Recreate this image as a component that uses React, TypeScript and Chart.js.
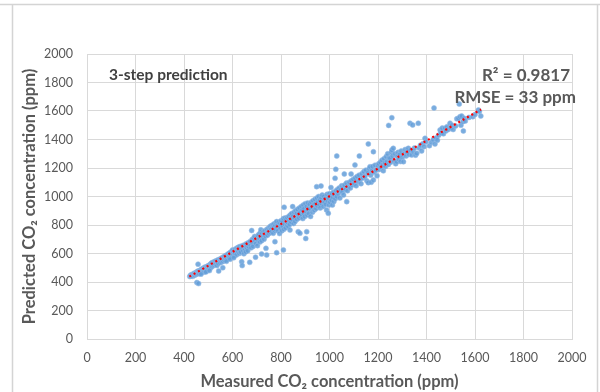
import React, { useEffect, useRef } from "react";
import { Chart, registerables } from "chart.js";

Chart.register(...registerables);

const X_TITLE = "Measured CO₂ concentration (ppm)";
const Y_TITLE = "Predicted CO₂ concentration (ppm)";
const PANEL_LABEL = "3-step prediction";
const R2_LABEL = "R² = 0.9817";
const RMSE_LABEL = "RMSE = 33 ppm";

const AXIS_MIN = 0;
const AXIS_MAX = 2000;
const AXIS_STEP = 200;

// linear trend line end points (measured, predicted)
const trendMeasured = [422, 1625];
const trendPredicted = [438, 1611];

// [measured, predicted] in ppm
const points420to520: [number, number][] = [
  [424, 438], [426, 446], [429, 442], [431, 452], [433, 448], [436, 440], [438, 455], [440, 450], [442, 462], [444, 447],
  [446, 458], [448, 453], [450, 468], [451, 460], [453, 456], [455, 472], [457, 462], [458, 478], [460, 467], [462, 458],
  [463, 475], [465, 480], [467, 470], [469, 486], [470, 478], [472, 465], [474, 492], [476, 483], [478, 476], [480, 498],
  [481, 488], [483, 470], [485, 495], [487, 505], [489, 485], [490, 500], [492, 493], [494, 478], [496, 510], [498, 502],
  [500, 490], [501, 515], [503, 505], [505, 498], [507, 522], [509, 510], [510, 500], [512, 530], [514, 518], [516, 508],
  [518, 525], [520, 515], [453, 396], [460, 389], [458, 525], [470, 455], [490, 470], [505, 480], [515, 535],
];

const points520to620: [number, number][] = [
  [522, 540], [524, 520], [526, 532], [528, 545], [530, 525], [532, 538], [534, 550], [536, 515], [538, 542], [540, 555],
  [541, 530], [543, 477], [545, 548], [547, 560], [549, 535], [551, 552], [553, 565], [555, 540], [557, 558], [559, 572],
  [561, 545], [563, 562], [565, 578], [567, 552], [569, 568], [571, 585], [573, 558], [575, 575], [577, 590], [579, 565],
  [581, 582], [583, 598], [585, 570], [587, 588], [589, 605], [591, 575], [593, 595], [595, 612], [597, 585], [599, 600],
  [600, 625], [602, 592], [604, 610], [606, 580], [608, 620], [610, 600], [612, 632], [614, 612], [616, 590], [618, 625],
  [620, 640], [560, 500], [575, 545], [590, 560], [605, 570],
];

const points620to720: [number, number][] = [
  [622, 615], [624, 632], [626, 645], [628, 600], [630, 625], [632, 650], [634, 610], [636, 638], [638, 542], [640, 515],
  [641, 655], [643, 622], [645, 640], [647, 598], [649, 660], [651, 632], [653, 648], [655, 612], [657, 668], [659, 640],
  [661, 655], [663, 620], [665, 675], [667, 648], [669, 662], [671, 538], [673, 685], [675, 655], [677, 640], [679, 761],
  [681, 698], [683, 668], [685, 650], [687, 705], [689, 680], [691, 720], [693, 690], [695, 574], [697, 670], [699, 715],
  [701, 700], [703, 655], [705, 725], [707, 690], [709, 735], [711, 705], [713, 680], [715, 745], [717, 766], [719, 712],
  [720, 690],
];

const points720to820: [number, number][] = [
  [722, 740], [720, 597], [726, 718], [728, 752], [730, 700], [732, 735], [734, 760], [736, 722], [738, 636], [740, 745],
  [742, 770], [744, 728], [746, 752], [748, 775], [750, 740], [752, 765], [754, 788], [756, 748], [758, 772], [760, 795],
  [762, 755], [764, 780], [766, 800], [768, 742], [770, 785], [772, 808], [774, 760], [775, 683], [776, 795], [778, 770],
  [780, 815], [782, 606], [782, 824], [784, 785], [786, 800], [788, 760], [790, 820], [792, 790], [794, 740], [796, 812],
  [798, 775], [800, 830], [802, 800], [804, 760], [806, 825], [808, 790], [810, 625], [810, 845], [812, 770], [813, 925],
  [815, 805], [817, 850], [819, 780], [741, 590],
];

const points820to1000: [number, number][] = [
  [822, 840], [824, 800], [826, 852], [828, 815], [830, 790], [832, 860], [834, 830], [836, 805], [837, 765], [838, 870],
  [840, 845], [842, 820], [844, 880], [846, 838], [848, 929], [850, 862], [852, 810], [854, 890], [856, 848], [858, 825],
  [860, 900], [862, 868], [865, 882], [866, 840], [868, 910], [871, 753], [872, 875], [874, 850], [876, 920], [878, 742],
  [880, 890], [882, 860], [884, 930], [886, 870], [888, 905], [890, 845], [892, 940], [894, 880], [896, 915], [898, 860],
  [900, 950], [902, 705], [903, 895], [906, 753], [906, 930], [908, 870], [910, 955], [912, 905], [915, 880], [918, 945],
  [920, 915], [922, 860], [925, 960], [928, 925], [930, 890], [932, 970], [935, 940], [938, 905], [940, 980], [942, 950],
  [945, 915], [947, 1069], [948, 990], [950, 935], [952, 960], [955, 1000], [958, 940], [960, 975], [962, 920], [965, 1074],
  [966, 990], [968, 950], [970, 1010], [972, 965], [975, 930], [978, 1000], [980, 960], [982, 985], [985, 945], [988, 905],
  [990, 1015], [992, 970], [995, 882], [996, 990], [998, 940], [1000, 1020],
];

const points1000to1200: [number, number][] = [
  [1002, 960], [1004, 1005], [1006, 1063], [1008, 975], [1010, 1020], [1012, 940], [1014, 995], [1016, 1030], [1018, 965], [1020, 1010],
  [1023, 1128], [1024, 985], [1026, 1191], [1027, 1040], [1030, 1284], [1030, 1000], [1033, 1050], [1036, 1020], [1040, 1060], [1043, 990],
  [1046, 1045], [1050, 1075], [1053, 1030], [1056, 1060], [1058, 1010], [1061, 1158], [1062, 1080], [1066, 1050], [1070, 1095], [1071, 964],
  [1074, 1040], [1078, 1070], [1082, 1100], [1086, 1060], [1089, 1158], [1090, 1110], [1094, 1080], [1098, 1120], [1102, 1090], [1105, 1221],
  [1106, 1130], [1110, 1075], [1114, 1140], [1118, 1105], [1122, 1150], [1123, 1284], [1126, 1120], [1130, 1090], [1134, 1160], [1138, 1130],
  [1142, 1175], [1146, 1140], [1150, 1185], [1154, 1110], [1158, 1165], [1160, 1097], [1160, 1369], [1164, 1195], [1167, 1209], [1170, 1150],
  [1172, 1100], [1175, 1180], [1178, 1210], [1181, 1116], [1181, 1314], [1184, 1170], [1188, 1220], [1192, 1185], [1196, 1145], [1200, 1215],
];

const points1200to1420: [number, number][] = [
  [1203, 1230], [1206, 1190], [1210, 1240], [1213, 1205], [1216, 1255], [1219, 1220], [1222, 1180], [1225, 1265], [1228, 1235], [1231, 1210],
  [1234, 1280], [1237, 1245], [1240, 1300], [1243, 1225], [1244, 1499], [1246, 1270], [1250, 1268], [1252, 1240], [1255, 1310], [1257, 1326],
  [1257, 1553], [1260, 1285], [1263, 1338], [1266, 1250], [1270, 1300], [1273, 1230], [1277, 1244], [1280, 1280], [1283, 1310], [1286, 1260],
  [1290, 1295], [1293, 1245], [1296, 1320], [1300, 1275], [1305, 1244], [1308, 1300], [1312, 1330], [1316, 1285], [1320, 1310], [1325, 1338],
  [1328, 1295], [1332, 1514], [1334, 1325], [1339, 1291], [1343, 1502], [1346, 1314], [1350, 1340], [1355, 1290], [1360, 1303], [1366, 1514],
  [1370, 1340], [1375, 1360], [1380, 1320], [1385, 1370], [1390, 1350], [1394, 1408], [1398, 1385], [1412, 1357], [1420, 1380],
];

const points1420to1630: [number, number][] = [
  [1428, 1400], [1431, 1621], [1435, 1369], [1440, 1410], [1445, 1395], [1450, 1430], [1456, 1467], [1460, 1445], [1465, 1480], [1470, 1440],
  [1476, 1479], [1480, 1460], [1485, 1490], [1490, 1470], [1497, 1514], [1500, 1480], [1505, 1500], [1510, 1470], [1520, 1495], [1525, 1545],
  [1531, 1548], [1535, 1649], [1538, 1560], [1542, 1500], [1545, 1565], [1550, 1525], [1552, 1460], [1555, 1549], [1560, 1530], [1575, 1555],
  [1591, 1560], [1600, 1575], [1614, 1607], [1618, 1596], [1624, 1565],
];

const allPoints = [
  ...points420to520,
  ...points520to620,
  ...points620to720,
  ...points720to820,
  ...points820to1000,
  ...points1000to1200,
  ...points1200to1420,
  ...points1420to1630,
];

const FONT = "Lato, 'Open Sans', sans-serif";
const GRID = "#d9d9d9";
const TEXT = "#595959";

const decorPlugin = {
  id: "decor",
  beforeDraw(chart: any) {
    const ctx = chart.ctx;
    ctx.save();
    ctx.strokeStyle = "#d4d4d4";
    ctx.lineWidth = 1.5;
    ctx.beginPath();
    ctx.moveTo(0, 4.5);
    ctx.lineTo(chart.width, 4.5);
    ctx.moveTo(12.5, 4.5);
    ctx.lineTo(12.5, chart.height);
    ctx.moveTo(597.5, 4.5);
    ctx.lineTo(597.5, chart.height);
    ctx.stroke();
    ctx.restore();
  },
  afterDraw(chart: any) {
    const ctx = chart.ctx;
    const a = chart.chartArea;
    ctx.save();
    ctx.textBaseline = "middle";
    ctx.fillStyle = "#404040";
    ctx.textAlign = "left";
    ctx.font = `bold 15.5px ${FONT}`;
    ctx.fillText(PANEL_LABEL, a.left + 22, a.top + 21);
    ctx.fillStyle = TEXT;
    ctx.textAlign = "right";
    ctx.font = `bold 17px ${FONT}`;
    ctx.fillText(R2_LABEL, a.right - 2, a.top + 22);
    ctx.fillText(RMSE_LABEL, a.right + 4, a.top + 44);
    ctx.restore();
  },
};

const plainTick = (v: any) => String(v);

export default function App() {
  const ref = useRef<HTMLCanvasElement>(null);

  useEffect(() => {
    if (!ref.current) return;
    const chart = new Chart(ref.current, {
      type: "scatter",
      data: {
        datasets: [
          {
            label: "Linear trend",
            type: "line",
            data: trendMeasured.map((x, i) => ({ x, y: trendPredicted[i] })),
            borderColor: "#ff0000",
            borderWidth: 2.2,
            borderDash: [2, 3],
            pointRadius: 0,
            fill: false,
            order: 0,
          } as any,
          {
            label: "3-step prediction",
            data: allPoints.map(([x, y]) => ({ x, y })),
            backgroundColor: "rgba(98,158,216,0.85)",
            borderColor: "rgba(150,188,230,0.9)",
            borderWidth: 0.6,
            pointRadius: 2.5,
            order: 1,
          },
        ],
      },
      options: {
        animation: false,
        responsive: true,
        maintainAspectRatio: false,
        devicePixelRatio: 1,
        layout: { padding: { left: 0, top: 54, right: 28, bottom: 0 } },
        plugins: {
          legend: { display: false },
          tooltip: { enabled: false },
        },
        scales: {
          x: {
            type: "linear",
            min: AXIS_MIN,
            max: AXIS_MAX,
            ticks: { stepSize: AXIS_STEP, color: TEXT, font: { family: FONT, size: 12.5 }, padding: 11, callback: plainTick },
            grid: { color: GRID, lineWidth: 1, drawTicks: false },
            border: { display: true, color: GRID, width: 1 },
            title: {
              display: true,
              text: X_TITLE,
              color: TEXT,
              font: { family: FONT, size: 16.5, weight: "bold" },
              padding: { top: 0, bottom: 0 },
            },
            afterFit: (s: any) => { s.height = 53; },
          },
          y: {
            type: "linear",
            min: AXIS_MIN,
            max: AXIS_MAX,
            ticks: { stepSize: AXIS_STEP, color: TEXT, font: { family: FONT, size: 12.5 }, padding: 14, callback: plainTick },
            grid: { color: GRID, lineWidth: 1, drawTicks: false },
            border: { display: true, color: GRID, width: 1 },
            title: {
              display: true,
              text: Y_TITLE,
              color: TEXT,
              font: { family: FONT, size: 16.5, weight: "bold" },
              padding: { top: 20, bottom: 0 },
            },
            afterFit: (s: any) => { s.width = 87; },
          },
        },
      },
      plugins: [decorPlugin],
    });
    return () => chart.destroy();
  }, []);

  return (
    <div style={{ position: "absolute", left: 0, top: 0, width: 600, height: 392, background: "#fff" }}>
      <canvas ref={ref} />
    </div>
  );
}
